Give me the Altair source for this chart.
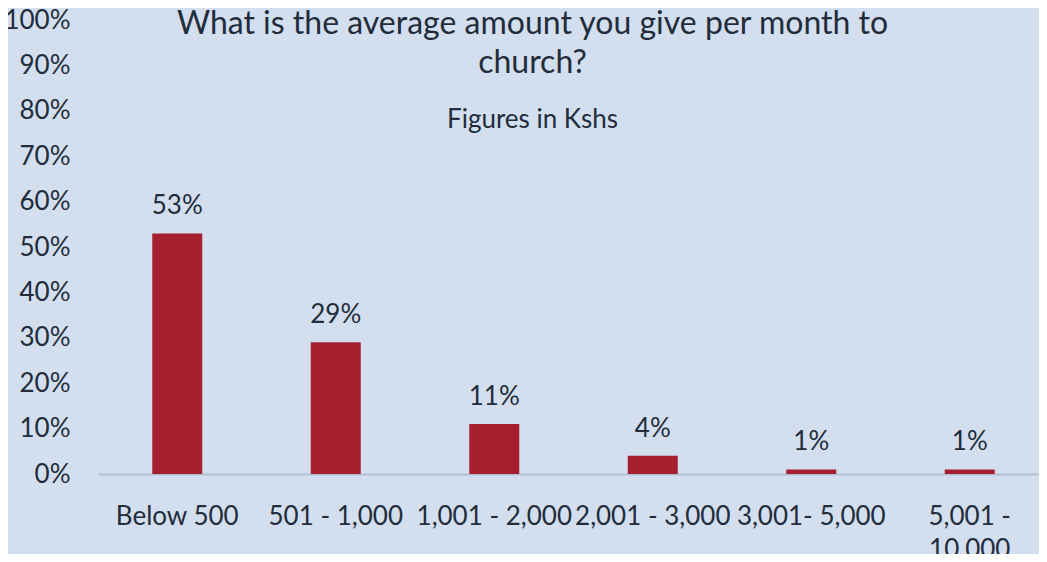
import altair as alt
import pandas as pd

categories = ["Below 500", "501 - 1,000", "1,001 - 2,000", "2,001 - 3,000", "3,001- 5,000", "5,001 - 10,000"]
values = [53, 29, 11, 4, 1, 1]
labels = ["53%", "29%", "11%", "4%", "1%", "1%"]

df = pd.DataFrame({"cat": categories, "val": values, "lab": labels})

FONT = "Lato"
TXT = "#222C3B"
BG = "#D3DFEE"
BAR = "#A51F2E"

x = alt.X("cat:N", sort=categories, title=None,
          scale=alt.Scale(range=[0, 951], paddingInner=0, paddingOuter=0),
          axis=alt.Axis(labelAngle=0, labelFont=FONT, labelFontSize=26, labelColor=TXT,
                        labelPadding=29, ticks=False, domainColor="#B2BFD1", domainWidth=2,
                        labelLineHeight=33, labelBaseline="top",
                        labelExpr="datum.value == '5,001 - 10,000' ? ['5,001 -', '10,000'] : datum.value"))
y = alt.Y("val:Q", title=None,
          scale=alt.Scale(domain=[0, 100]),
          axis=alt.Axis(values=[0, 10, 20, 30, 40, 50, 60, 70, 80, 90, 100],
                        labelExpr="datum.value + '%'", labelFont=FONT, labelFontSize=26,
                        labelColor=TXT, labelPadding=28, ticks=False, domain=False, grid=False))

bars = alt.Chart(df).mark_bar(color=BAR, size=50).encode(x=x, y=y)
text = alt.Chart(df).mark_text(font=FONT, fontSize=26, color=TXT, baseline="bottom", dy=-14).encode(
    x=alt.X("cat:N", sort=categories), y="val:Q", text="lab:N")

chart = alt.layer(bars, text).properties(
    width=941, height=454,
    title=alt.TitleParams(
        text=["What is the average amount you give per month to", "church?"],
        subtitle="Figures in Kshs",
        font=FONT, fontSize=32, fontWeight="normal", color=TXT, lineHeight=39,
        subtitleFont=FONT, subtitleFontSize=26, subtitleColor=TXT, subtitlePadding=27,
        anchor="middle", frame="group", offset=0, dy=127, dx=-36),
    autosize=alt.AutoSizeParams(type="none"),
    padding={"left": 90, "top": 12, "right": 0, "bottom": 80},
    background=BG,
).configure_view(stroke=None)

chart.save("out.html", embed_options={"renderer": "svg", "actions": False})
